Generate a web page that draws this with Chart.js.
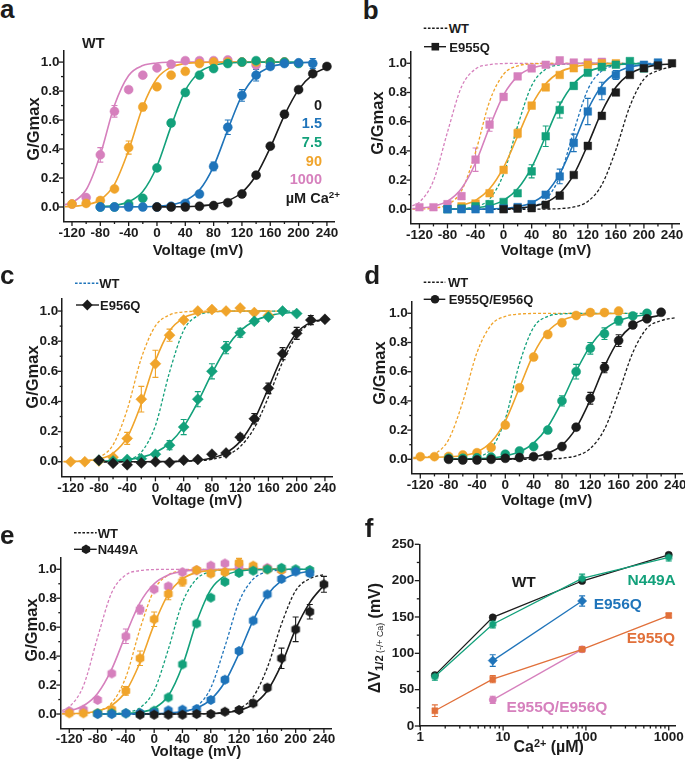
<!DOCTYPE html>
<html><head><meta charset="utf-8">
<script src="https://cdn.jsdelivr.net/npm/chart.js@4.4.1/dist/chart.umd.min.js"></script>
<style>
html,body{margin:0;padding:0;background:#fff}
#root{position:relative;width:685px;height:763px;overflow:hidden;font-family:"Liberation Sans",Arial,Helvetica,sans-serif;font-weight:bold;color:#1c1c1c}
#root canvas{position:absolute}
.t{position:absolute;white-space:nowrap;line-height:1}
.t sup{font-size:0.68em;position:relative;top:-0.1em;vertical-align:top;line-height:1}
.t sub{font-size:0.7em;position:relative;vertical-align:baseline;top:0.3em;line-height:1}
#svg{position:absolute;left:0;top:0}
</style></head>
<body><div id="root"><svg id="svg" width="685" height="763"></svg></div>
<script>
const _ = null;
// ---------- shared axes ----------
const V = [-120,-100,-80,-60,-40,-20,0,20,40,60,80,100,120,140,160,180,200,220,240];
const fitV = [-130,-120,-100,-80,-60,-40,-20,0,20,40,60,80,100,120,140,160,180,200,220,240];
const xTicks = [-120,-80,-40,0,40,80,120,160,200,240];
const xMinor = [-100,-60,-20,20,60,100,140,180,220];
const yTicks = [0,0.2,0.4,0.6,0.8,1.0];
const yMinor = [0.1,0.3,0.5,0.7,0.9];

// ---------- panel a (WT) ----------
const aPink   = [0.02,0.065,0.36,0.66,0.81,0.91,0.96,0.985,1.01,1.01,1.01,1.015,1.0,0.98,1.0,1.0,_,_,_];
const aPinkErr= [0,0.01,0.05,0.04,0.02,0.01,0,0,0,0,0,0,0,0,0,0,_,_,_];
const aOrange = [0.02,0.025,0.045,0.125,0.41,0.69,0.83,0.91,0.936,0.99,1.0,1.0,1.0,1.0,1.0,1.0,_,_,_];
const aOrangeErr=[0,0,0,0.01,0.045,0.025,0.015,0.01,0,0,0,0,0,0,0,0,_,_,_];
const aGreen  = [_,_,0.0,0.0,0.02,0.06,0.27,0.58,0.79,0.91,0.955,0.99,1.0,1.01,1.0,1.0,0.99,_,_];
const aGreenErr=[_,_,0,0,0,0,0.01,0.02,0.01,0.01,0,0,0,0,0,0,0,_,_];
const aBlue   = [_,_,0.0,0.0,0.0,0.0,0.0,0.005,0.025,0.09,0.28,0.55,0.77,0.91,0.97,0.99,0.995,0.99,_];
const aBlueErr= [_,_,0,0,0,0,0,0,0.005,0.01,0.03,0.05,0.04,0.04,0.02,0.01,0,0.035,_];
const aBlack  = [_,_,_,_,_,_,0.0,0.0,0.0,0.005,0.01,0.03,0.09,0.22,0.42,0.64,0.81,0.92,0.97];
const aBlackErr=[_,_,_,_,_,_,0,0,0,0,0,0,0.01,0.01,0.015,0.02,0.015,0.01,0.01];
const aPinkFit  = [0.016,0.031,0.119,0.361,0.702,0.908,0.976,0.994,0.999,1,1,1,1,1,1,1,1,_,_,_];
const aOrangeFit= [0.002,0.004,0.015,0.05,0.156,0.392,0.692,0.887,0.965,0.99,0.997,0.999,1,1,1,1,1,_,_,_];
const aGreenFit = [_,_,_,0.0035,0.011,0.036,0.107,0.281,0.558,0.804,0.93,0.977,0.993,0.998,1,1,1,1,_,_];
const aBlueFit  = [_,_,_,0.0001,0.0002,0.0006,0.0018,0.0053,0.015,0.044,0.117,0.281,0.533,0.77,0.907,0.966,0.988,0.996,0.999,_];
const aBlackFit = [_,_,_,_,_,_,_,0.0005,0.0012,0.003,0.0073,0.018,0.044,0.10,0.219,0.41,0.633,0.81,0.914,0.963];

// ---------- panel b (E955Q) ----------
const bPink   = [0.014,0.014,0.035,0.09,0.34,0.58,0.77,0.91,0.965,0.99,1.02,1.005,1.005,1.01,_,_,_,_,_];
const bPinkErr= [0,0,0.01,0.02,0.08,0.045,0.02,0.01,0,0,0,0,0,0,_,_,_,_,_];
const bOrange = [_,_,_,0.02,0.04,0.11,0.27,0.52,0.71,0.835,0.92,0.966,0.99,1.0,1.0,_,_,_,_];
const bOrangeErr=[_,_,_,0,0,0.01,0.015,0.03,0.02,0.01,0.015,0,0,0,0,_,_,_,_];
const bGreen  = [_,_,0.0,0.005,0.02,0.035,0.05,0.11,0.26,0.50,0.68,0.845,0.935,0.975,0.99,1.015,0.965,_,_];
const bGreenErr=[_,_,0,0,0,0,0.01,0.01,0.045,0.07,0.055,0.02,0.01,0.01,0,0,0.01,_,_];
const bBlue   = [_,_,0.0,0.0,0.0,0.0,0.005,0.015,0.035,0.10,0.225,0.455,0.67,0.81,0.92,0.965,0.99,1.005,_];
const bBlueErr= [_,_,0,0,0,0,0,0,0.01,0.015,0.05,0.06,0.09,0.06,0.03,0.01,0,0.015,_];
const bBlack  = [_,_,_,_,_,_,0.0,0.005,0.008,0.03,0.094,0.235,0.434,0.64,0.80,0.92,0.966,0.985,1.0];
const bBlackErr=[_,_,_,_,_,_,0,0,0,0,0.01,0.015,0.01,0.01,0.01,0.01,0.01,0,0.01];
const bPinkFit  = [0.0046,0.0076,0.021,0.056,0.143,0.317,0.564,0.783,0.91,0.966,0.987,0.995,0.998,1,1,_,_,_,_,_];
const bOrangeFit= [_,_,_,_,0.026,0.061,0.14,0.287,0.5,0.713,0.86,0.939,0.974,0.99,0.996,0.998,_,_,_,_];
const bGreenFit = [_,_,_,0.0017,0.0043,0.0105,0.026,0.061,0.14,0.287,0.5,0.713,0.86,0.939,0.974,0.99,0.996,0.998,_,_];
const bBlueFit  = [_,_,_,0.0002,0.0004,0.001,0.0027,0.007,0.018,0.045,0.109,0.242,0.453,0.682,0.847,0.935,0.974,0.99,0.996,_];
const bBlackFit = [_,_,_,_,_,_,_,0.003,0.0075,0.019,0.046,0.11,0.238,0.443,0.668,0.836,0.928,0.97,0.988,0.995];
const wtPinkDash= [0.023,0.049,0.195,0.529,0.839,0.961,0.991,0.998,1,1,1,1,1,1,1,1,1,_,_,_];
const bWTOrange = [0.0008,0.0017,0.0075,0.032,0.127,0.391,0.739,0.925,0.982,0.996,0.999,1,1,1,1,1,1,_,_,_];
const bWTGreen  = [_,_,_,0.001,0.0044,0.018,0.071,0.242,0.571,0.847,0.959,0.99,0.9975,1,1,1,1,1,_,_];
const bWTBlue   = [_,_,_,0,0,0,0.0003,0.0012,0.0046,0.018,0.068,0.224,0.534,0.82,0.948,0.986,0.9965,0.999,1,_];
const bWTBlack  = [_,_,_,0,0,0,0,0,0.0001,0.0004,0.0014,0.0045,0.016,0.054,0.168,0.407,0.706,0.891,0.95,0.975];

// ---------- panel c (E956Q) ----------
const cOrange = [0.0,0.0,0.005,0.03,0.155,0.415,0.65,0.84,0.94,1.0,1.01,1.0,1.02,0.99,0.97,_,_,_,_];
const cOrangeErr=[0,0,0,0.01,0.04,0.085,0.09,0.04,0.015,0,0,0,0,0,0,_,_,_,_];
const cGreen  = [_,_,0.01,0.005,0.015,0.02,0.05,0.11,0.23,0.415,0.6,0.757,0.856,0.932,0.96,1.0,0.983,_,_];
const cGreenErr=[_,_,0,0,0,0,0.01,0.03,0.05,0.05,0.05,0.04,0.03,0.015,0.01,0.01,0,_,_];
const cBlack  = [_,_,0.01,-0.01,-0.02,-0.008,0.0,-0.005,0.01,0.015,0.05,0.058,0.163,0.285,0.487,0.717,0.852,0.94,0.945];
const cBlackErr=[_,_,0.01,0.01,0.01,0.01,0,0,0,0,0.01,0.01,0.02,0.035,0.035,0.04,0.04,0.03,0.01];
const cOrangeFit= [0.001,0.0017,0.0056,0.018,0.056,0.161,0.385,0.67,0.868,0.955,0.986,0.996,0.999,1,1,1,_,_,_,_];
const cGreenFit = [_,_,_,0.003,0.0064,0.014,0.029,0.061,0.123,0.233,0.396,0.586,0.753,0.868,0.934,0.968,0.985,0.993,_,_];
const cBlackFit = [_,_,_,0,0,0.0001,0.0003,0.0007,0.0016,0.004,0.01,0.025,0.059,0.135,0.278,0.489,0.703,0.855,0.925,0.945];
const cWTOrange = [0.0009,0.0017,0.0072,0.029,0.112,0.345,0.687,0.901,0.974,0.994,0.9985,1,1,1,1,1,1,_,_,_];
const cWTGreen  = [_,_,_,0.0007,0.0031,0.014,0.064,0.24,0.595,0.872,0.97,0.993,0.9986,1,1,1,1,1,_,_];
const cWTBlack  = [_,_,_,0,0,0,0,0.0004,0.001,0.0025,0.0064,0.016,0.041,0.10,0.224,0.429,0.661,0.835,0.92,0.94];

// ---------- panel d (E955Q/E956Q) ----------
const dOrange = [0.018,0.018,0.02,0.03,0.045,0.08,0.235,0.49,0.70,0.855,0.935,0.985,1.005,1.005,1.015,_,_,_,_];
const dOrangeErr=[0,0,0,0,0,0.01,0.015,0.02,0.02,0.01,0.01,0,0,0,0,_,_,_,_];
const dGreen  = [_,_,0.007,0.007,0.01,0.015,0.035,0.057,0.087,0.2,0.4,0.6,0.76,0.86,0.95,0.982,1.0,_,_];
const dGreenErr=[_,_,0,0,0,0,0.01,0.01,0.01,0.02,0.035,0.05,0.04,0.04,0.03,0.01,0,_,_];
const dBlack  = [_,_,0.0,-0.005,-0.005,0.0,0.007,0.012,0.018,0.025,0.087,0.22,0.418,0.628,0.813,0.92,0.962,1.007,_];
const dBlackErr=[_,_,0,0,0,0,0,0,0,0.01,0.01,0.02,0.04,0.035,0.04,0.015,0.01,0,_];
const dOrangeFit= [0.012,0.013,0.014,0.017,0.026,0.05,0.118,0.262,0.49,0.722,0.875,0.95,0.981,0.993,0.997,0.999,_,_,_,_];
const dGreenFit = [_,_,_,0.0008,0.0019,0.0044,0.01,0.023,0.051,0.111,0.223,0.397,0.603,0.777,0.889,0.949,0.977,0.99,_,_];
const dBlackFit = [_,_,_,0.0001,0.0002,0.0004,0.001,0.0026,0.0066,0.016,0.041,0.097,0.214,0.408,0.636,0.816,0.918,0.966,0.986,_];
const dWTOrange = [0.0044,0.0089,0.036,0.135,0.394,0.731,0.919,0.979,0.995,0.999,1,1,1,1,1,1,1,_,_,_];
const dWTGreen  = [_,_,_,0.0006,0.0031,0.0154,0.072,0.277,0.655,0.904,0.979,0.996,0.999,1,1,1,1,1,_,_];
const dWTBlack  = [_,_,_,0,0,0,0,0.0001,0.0002,0.0007,0.0023,0.0075,0.024,0.074,0.206,0.456,0.731,0.898,0.95,0.97];

// ---------- panel e (N449A) ----------
const ePink   = [0.02,0.03,0.097,0.28,0.537,0.722,0.862,0.882,0.98,0.993,1.025,1.04,1.02,1.0,1.01,0.995,_,_,_];
const ePinkErr= [0.005,0.01,0.01,0.01,0.05,0.03,0.01,0.02,0.01,0,0,0,0,0,0,0,_,_,_];
const eOrange = [0.005,0.005,0.005,0.032,0.16,0.385,0.655,0.83,0.915,0.995,0.97,0.98,1.045,1.025,1.0,0.995,_,_,_];
const eOrangeErr=[0,0,0,0.01,0.03,0.05,0.05,0.04,0.03,0,0.02,0.01,0.03,0.01,0,0,_,_,_];
const eGreen  = [_,_,0.005,0.005,0.005,0.005,0.023,0.115,0.343,0.625,0.804,0.913,0.975,0.99,1.0,1.01,1.0,0.995,_];
const eGreenErr=[_,_,0,0,0,0,0,0.01,0.01,0.01,0.01,0.01,0.01,0,0,0,0,0,_];
const eBlue   = [_,_,0.0,0.0,0.005,0.005,0.01,0.025,0.03,0.035,0.097,0.237,0.435,0.645,0.827,0.933,0.984,0.973,_];
const eBlueErr= [_,_,0,0,0,0,0,0,0,0,0.01,0.02,0.01,0.01,0.01,0.01,0,0.02,_];
const eBlack  = [_,_,_,_,_,-0.005,-0.005,-0.005,-0.005,0.0,0.0,0.016,0.028,0.074,0.182,0.385,0.585,0.707,0.896];
const eBlackErr=[_,_,_,_,_,0,0,0,0,0,0,0,0,0.015,0.02,0.07,0.085,0.05,0.055];
const ePinkFit  = [0.0134,0.022,0.057,0.142,0.31,0.55,0.769,0.90,0.961,0.985,0.9945,0.998,1,1,1,1,1,_,_,_];
const eOrangeFit= [0.0014,0.0025,0.0073,0.021,0.06,0.157,0.356,0.619,0.828,0.934,0.977,0.992,0.997,0.999,1,1,1,_,_,_];
const eGreenFit = [_,_,_,0.0003,0.001,0.0034,0.0117,0.04,0.126,0.334,0.637,0.86,0.955,0.987,0.996,0.999,1,1,1,_];
const eBlueFit  = [_,_,_,0.0001,0.0002,0.0004,0.0011,0.0027,0.0068,0.017,0.042,0.10,0.221,0.419,0.647,0.822,0.922,0.968,0.987,_];
const eBlackFit = [_,_,_,_,_,_,0,0.0001,0.0002,0.0005,0.0013,0.0035,0.0095,0.025,0.066,0.161,0.343,0.587,0.77,0.89];
const eWTOrange = [0.0006,0.0011,0.0047,0.019,0.076,0.255,0.588,0.857,0.961,0.99,0.998,1,1,1,1,1,1,_,_,_];
const eWTGreen  = [_,_,_,0.0006,0.0027,0.011,0.044,0.162,0.447,0.771,0.933,0.983,0.996,0.999,1,1,1,1,_,_];
const eWTBlue   = [_,_,_,0,0,0,0,0.0009,0.0035,0.014,0.052,0.18,0.466,0.776,0.932,0.982,0.995,0.999,1,_];
const eWTBlack  = [_,_,_,0,0,0,0,0,0,0.0003,0.0009,0.0032,0.011,0.037,0.119,0.321,0.622,0.852,0.935,0.963];

// ---------- panel f ----------
const fCa = [1.5,7.5,90,1000];
const fWT = [70,149.5,199.5,235.5];      const fWTErr = [2,2,2.5,2.5];
const fN449A = [68,140,203,232];         const fN449AErr = [5,5,6,5];
const fE956Q = [_,90,172,_];             const fE956QErr = [0,8,7,0];
const fE955Q = [21,64.5,105.5,152];      const fE955QErr = [8,5,2,3];
const fDouble = [_,36,105.5,_];          const fDoubleErr = [0,5,2,0];
const fxTicks = [1,10,100,1000];
const fxMinor = [2,3,4,5,6,7,8,9,20,30,40,50,60,70,80,90,200,300,400,500,600,700,800,900];
const fyTicks = [0,50,100,150,200,250];
const fyMinor = [25,75,125,175,225];

// ---------- styling ----------
const INK = '#1c1c1c';
const C = {k:INK, b:'#1f74ba', g:'#13a17b', o:'#f0a42b', p:'#d680bd', r:'#e1703a'};
const root = document.getElementById('root');
Chart.defaults.font.family = '"Liberation Sans", Arial, Helvetica, sans-serif';

function hexImg(color, r){
  const s = Math.ceil(2*r)+2, c = document.createElement('canvas'); c.width = c.height = s;
  const g = c.getContext('2d'); g.fillStyle = color; g.beginPath();
  for (let k=0;k<6;k++){ const a=-Math.PI/2+k*Math.PI/3; const px=s/2+r*Math.cos(a), py=s/2+r*Math.sin(a); if(k) g.lineTo(px,py); else g.moveTo(px,py); }
  g.closePath(); g.fill(); return c;
}

const errPlugin = {
  id:'errbars',
  beforeDatasetsDraw(chart){
    const ctx = chart.ctx, xs = chart.scales.x, ys = chart.scales.y;
    ctx.save();
    chart.data.datasets.forEach(ds=>{
      if(!ds.errBars) return;
      ctx.strokeStyle = ds.borderColor; ctx.lineWidth = 1.1;
      ds.data.forEach(p=>{
        if(!p.e) return;
        const x = xs.getPixelForValue(p.x), y1 = ys.getPixelForValue(p.y+p.e), y2 = ys.getPixelForValue(p.y-p.e);
        ctx.beginPath();
        ctx.moveTo(x,y1); ctx.lineTo(x,y2);
        ctx.moveTo(x-3,y1); ctx.lineTo(x+3,y1);
        ctx.moveTo(x-3,y2); ctx.lineTo(x+3,y2);
        ctx.stroke();
      });
    });
    ctx.restore();
  }
};
function tickMarks(xMaj,xMin,yMaj,yMin){
  return {id:'tickmarks', afterDraw(chart){
    const ctx = chart.ctx, a = chart.chartArea, xs = chart.scales.x, ys = chart.scales.y;
    ctx.save(); ctx.strokeStyle = INK; ctx.lineWidth = 1.3;
    const seg=(x1,y1,x2,y2)=>{ctx.beginPath();ctx.moveTo(x1,y1);ctx.lineTo(x2,y2);ctx.stroke();};
    xMaj.forEach(v=>{const x=xs.getPixelForValue(v); seg(x,a.bottom,x,a.bottom+4.5);});
    xMin.forEach(v=>{const x=xs.getPixelForValue(v); seg(x,a.bottom,x,a.bottom+2.5);});
    yMaj.forEach(v=>{const y=ys.getPixelForValue(v); seg(a.left,y,a.left-4.5,y);});
    yMin.forEach(v=>{const y=ys.getPixelForValue(v); seg(a.left,y,a.left-2.5,y);});
    ctx.restore();
  }};
}

function makeChart(area, xcfg, ycfg, datasets){
  const Wy=50, Hx=34, padR=24, padT=12;
  const left=Math.floor(area.L-Wy), top=Math.floor(area.T-padT);
  const width=Math.ceil(area.R+padR-left), height=Math.ceil(area.B+Hx-top);
  const yW=area.L-left, pT=area.T-top, pR=width-(area.R-left), xH=height-(area.B-top);
  const cv=document.createElement('canvas'); cv.width=width; cv.height=height;
  cv.style.left=left+'px'; cv.style.top=top+'px'; cv.style.width=width+'px'; cv.style.height=height+'px';
  root.appendChild(cv);
  const tickFont={size:13.5, weight:'bold'};
  new Chart(cv, {
    type:'scatter',
    data:{datasets},
    options:{
      responsive:false, animation:false, events:[],
      layout:{padding:{left:0, top:pT, right:pR, bottom:0}},
      plugins:{legend:{display:false}, tooltip:{enabled:false}},
      scales:{
        x:{type:xcfg.type, position:'bottom', min:xcfg.min, max:xcfg.max,
          grid:{display:false, drawTicks:false}, border:{display:true,color:INK,width:1.5},
          ticks:{padding:xcfg.pad, font:tickFont, color:INK, autoSkip:false, maxRotation:0, minRotation:0, callback:v=>String(v)},
          afterBuildTicks:s=>{s.ticks=xcfg.ticks.map(v=>({value:v}));},
          afterFit:s=>{s.height=xH; s.paddingLeft=0; s.paddingRight=0; s.paddingTop=0; s.paddingBottom=0;}},
        y:{type:'linear', position:'left', min:ycfg.min, max:ycfg.max,
          grid:{display:false, drawTicks:false}, border:{display:true,color:INK,width:1.5},
          ticks:{padding:ycfg.pad, font:tickFont, color:INK, autoSkip:false, callback:ycfg.fmt},
          afterBuildTicks:s=>{s.ticks=ycfg.ticks.map(v=>({value:v}));},
          afterFit:s=>{s.width=yW; s.paddingLeft=0; s.paddingRight=0; s.paddingTop=0; s.paddingBottom=0;}}
      }
    },
    plugins:[errPlugin, tickMarks(xcfg.ticks, xcfg.minor, ycfg.ticks, ycfg.minor)]
  });
}

function pointSet(xs, arr, err, color, style, r){
  return {data: xs.map((v,i)=>arr[i]==null?null:{x:v,y:arr[i],e:(err&&err[i])||0}).filter(Boolean),
    showLine:false, pointStyle:style, pointRadius:r, pointBackgroundColor:color, pointBorderColor:color,
    pointBorderWidth:0.5, borderColor:color, backgroundColor:color, errBars:true, order:0};
}
function curveSet(arr, color, dashed){
  return {data: fitV.map((v,i)=>arr[i]==null?null:{x:v,y:arr[i]}).filter(Boolean),
    showLine:true, pointRadius:0, borderColor:color, borderWidth:dashed?1.3:1.6,
    borderDash:dashed?[3,2]:[], cubicInterpolationMode:'monotone', fill:false, order:dashed?2:1};
}

const gX = (pad)=>({type:'linear', min:-132, max:250, ticks:xTicks, minor:xMinor, pad});
const gY = {min:-0.1, max:1.08, ticks:yTicks, minor:yMinor, pad:4, fmt:v=>Number(v).toFixed(1)};

const panels = [
  {area:{L:63.5,T:50.5,R:334,B:221.5}, pad:3.5, mk:'circle', r:4.5,
   pts:[[aBlack,aBlackErr,'k'],[aBlue,aBlueErr,'b'],[aGreen,aGreenErr,'g'],[aOrange,aOrangeErr,'o'],[aPink,aPinkErr,'p']],
   fits:[[aBlackFit,'k'],[aBlueFit,'b'],[aGreenFit,'g'],[aOrangeFit,'o'],[aPinkFit,'p']], dash:[]},
  {area:{L:411,T:51.6,R:679,B:223.9}, pad:3.5, mk:'rect', r:5.4,
   pts:[[bBlack,bBlackErr,'k'],[bBlue,bBlueErr,'b'],[bGreen,bGreenErr,'g'],[bOrange,bOrangeErr,'o'],[bPink,bPinkErr,'p']],
   fits:[[bBlackFit,'k'],[bBlueFit,'b'],[bGreenFit,'g'],[bOrangeFit,'o'],[bPinkFit,'p']],
   dash:[[bWTBlack,'k'],[bWTBlue,'b'],[bWTGreen,'g'],[bWTOrange,'o'],[wtPinkDash,'p']]},
  {area:{L:62.2,T:299,R:332,B:476.8}, pad:3.5, mk:'rectRot', r:5.5,
   pts:[[cBlack,cBlackErr,'k'],[cGreen,cGreenErr,'g'],[cOrange,cOrangeErr,'o']],
   fits:[[cBlackFit,'k'],[cGreenFit,'g'],[cOrangeFit,'o']],
   dash:[[cWTBlack,'k'],[cWTGreen,'g'],[cWTOrange,'o']]},
  {area:{L:411.8,T:301.6,R:682.4,B:473.9}, pad:3.5, mk:'circle', r:4.5,
   pts:[[dBlack,dBlackErr,'k'],[dGreen,dGreenErr,'g'],[dOrange,dOrangeErr,'o']],
   fits:[[dBlackFit,'k'],[dGreenFit,'g'],[dOrangeFit,'o']],
   dash:[[dWTBlack,'k'],[dWTGreen,'g'],[dWTOrange,'o']]},
  {area:{L:60.8,T:557.7,R:331,B:728.5}, pad:2.5, mk:'hex', r:5,
   pts:[[eBlack,eBlackErr,'k'],[eBlue,eBlueErr,'b'],[eGreen,eGreenErr,'g'],[eOrange,eOrangeErr,'o'],[ePink,ePinkErr,'p']],
   fits:[[eBlackFit,'k'],[eBlueFit,'b'],[eGreenFit,'g'],[eOrangeFit,'o'],[ePinkFit,'p']],
   dash:[[eWTBlack,'k'],[eWTBlue,'b'],[eWTGreen,'g'],[eWTOrange,'o'],[wtPinkDash,'p']]}
];

panels.forEach(p=>{
  const ds=[];
  p.pts.forEach(([arr,err,c])=>ds.push(pointSet(V,arr,err,C[c], p.mk==='hex'?hexImg(C[c],p.r):p.mk, p.r)));
  p.fits.forEach(([arr,c])=>ds.push(curveSet(arr,C[c],false)));
  p.dash.forEach(([arr,c])=>ds.push(curveSet(arr,C[c],true)));
  makeChart(p.area, gX(p.pad), gY, ds);
});

// panel f
(function(){
  const lineOf=(s)=>Object.assign(s,{showLine:true, borderWidth:1.3, tension:0});
  const ds=[
    lineOf(pointSet(fCa,fE955Q,fE955QErr,C.r,'rect',4.2)),
    lineOf(pointSet(fCa,fDouble,fDoubleErr,C.p,'circle',3.6)),
    lineOf(pointSet(fCa,fE956Q,fE956QErr,C.b,'rectRot',4.6)),
    lineOf(pointSet(fCa,fN449A,fN449AErr,C.g,hexImg(C.g,4),4)),
    lineOf(pointSet(fCa,fWT,fWTErr,C.k,'circle',3.6))
  ];
  makeChart({L:419.3,T:544.3,R:675.3,B:726},
    {type:'logarithmic', min:0.973, max:1200, ticks:fxTicks, minor:fxMinor, pad:3},
    {min:0, max:250, ticks:fyTicks, minor:fyMinor, pad:5, fmt:v=>String(v)}, ds);
})();

// ---------- text ----------
function txt(html, x, y, o={}){
  const d=document.createElement('div'); d.className='t'; d.innerHTML=html;
  d.style.fontSize=(o.size||14)+'px'; if(o.color) d.style.color=o.color;
  if(o.weight) d.style.fontWeight=o.weight;
  d.style.left=x+'px';
  if(o.base!==undefined){ d.style.top=(o.base-0.846*(o.size||14))+'px'; }
  else {
    d.style.top=y+'px';
    const ax=o.align==='right'?'-100%':o.align==='center'?'-50%':'0';
    d.style.transform=`translate(${ax},-50%)`+(o.rot?` rotate(${o.rot}deg)`:'');
  }
  root.appendChild(d); return d;
}
// panel letters
[['a',0,17.5],['b',362.7,18.5],['c',0,283.5],['d',364.3,283.5],['e',0,543.5],['f',364.8,537]]
  .forEach(([l,x,b])=>txt(l,x,0,{size:26,base:b}));
// axis titles
[[33.3,129],[377,123.3],[31.7,376.7],[379.3,373.3],[30.7,630]].forEach(([x,y])=>txt('G/Gmax',x,y,{size:16.5,align:'center',rot:-90}));
[[198,248.5],[546,248.5],[197,498.5],[547,498.5],[196,749.5]].forEach(([x,y])=>txt('Voltage (mV)',x,y,{size:15,align:'center'}));
txt('\u0394V<sub>1/2</sub><sub style="font-size:0.55em;font-weight:normal"> (-/+ Ca)</sub> (mV)',375.3,638,{size:16,align:'center',rot:-90});
txt('Ca<sup>2+</sup> (\u00b5M)',548.7,746.7,{size:16,align:'center'});
// panel a annotations
txt('WT',93.3,43.3,{size:14.5,align:'center'});
[['0',105,C.k],['1.5',122.7,C.b],['7.5',141.7,C.g],['90',161,C.o],['1000',179.3,C.p]]
  .forEach(([s,y,c])=>txt(s,322,y,{size:14.5,align:'right',color:c}));
txt('\u00b5M Ca<sup>2+</sup>',340,198.3,{size:14.5,align:'right'});
// panel f labels
txt('WT',523.7,581.7,{size:15.5,align:'center'});
txt('N449A',651.7,580,{size:15.5,align:'center',color:C.g});
txt('E956Q',617.8,604.3,{size:15.5,align:'center',color:C.b});
txt('E955Q',675,638.3,{size:15.5,align:'right',color:C.r});
txt('E955Q/E956Q',557,706.7,{size:15.5,align:'center',color:C.p});

// ---------- legends ----------
const svg=document.getElementById('svg');
function se(tag,attrs){const e=document.createElementNS('http://www.w3.org/2000/svg',tag);for(const k in attrs)e.setAttribute(k,attrs[k]);svg.appendChild(e);return e;}
function legLine(x1,x2,y,color,dashed){se('line',{x1,y1:y,x2,y2:y,stroke:color,'stroke-width':1.4,'stroke-dasharray':dashed?'2.6,1.6':'none'});}
function hexPts(cx,cy,r){const a=[];for(let k=0;k<6;k++){const t=-Math.PI/2+k*Math.PI/3;a.push((cx+r*Math.cos(t)).toFixed(2)+','+(cy+r*Math.sin(t)).toFixed(2));}return a.join(' ');}
// b
legLine(423.7,448,28.3,INK,true); txt('WT',448.7,28.3,{size:13});
legLine(424,446,46.7,INK,false); se('rect',{x:431.5,y:42.9,width:7.6,height:7.6,fill:INK}); txt('E955Q',449.3,46.7,{size:13});
// c
legLine(75,98.3,283.3,C.b,true); txt('WT',99.3,283.3,{size:13});
legLine(76,99,305,INK,false); se('polygon',{points:'87.3,299.6 92.7,305 87.3,310.4 81.9,305',fill:INK}); txt('E956Q',100,305,{size:13});
// d
legLine(423.7,445.3,282.3,INK,true); txt('WT',448,282.3,{size:13});
legLine(423.7,445.3,299.3,INK,false); se('circle',{cx:435,cy:299.3,r:4.3,fill:INK}); txt('E955Q/E956Q',448.7,299.3,{size:13});
// e
legLine(74,96.7,532.7,INK,true); txt('WT',97.7,532.7,{size:13});
legLine(74,96.7,549.3,INK,false); se('polygon',{points:hexPts(86,549.3,4.8),fill:INK}); txt('N449A',97.7,549.3,{size:13});
</script></body></html>
